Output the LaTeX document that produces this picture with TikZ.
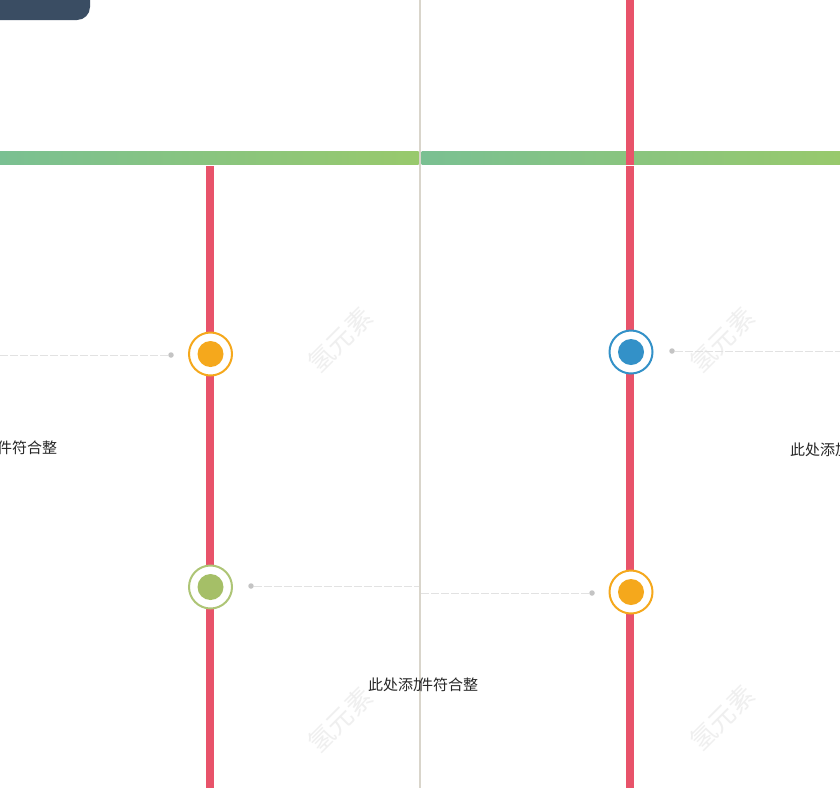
\documentclass[tikz,border=0pt]{standalone}
\usepackage{fontspec}
\newfontfamily\cjk{Noto Sans CJK SC}
\definecolor{darkbox}{HTML}{3A4D63}
\definecolor{bandA}{HTML}{7AC092}
\definecolor{bandB}{HTML}{98C96C}
\definecolor{railred}{HTML}{E8536A}
\definecolor{divider}{HTML}{D9D5CB}
\definecolor{cOrange}{HTML}{F5A81C}
\definecolor{cBlue}{HTML}{3391C8}
\definecolor{cGreen}{HTML}{A5BF67}
\definecolor{leader}{HTML}{E2E2E2}
\definecolor{leaderdot}{HTML}{C4C4C4}
\definecolor{wm}{HTML}{EFEFEF}
\begin{document}
\begin{tikzpicture}[x=1pt,y=-1pt,
  ring/.style={circle,draw=#1,line width=2pt,fill=white,minimum size=43pt,inner sep=0pt},
  core/.style={circle,fill=#1,minimum size=26pt,inner sep=0pt},
  rail/.style={railred,line width=7.5pt},
  leaderline/.style={leader,line width=1pt,dash pattern=on 8pt off 2pt},
  ldot/.style={circle,fill=leaderdot,minimum size=5.5pt,inner sep=0pt},
  label/.style={font=\cjk\fontsize{15pt}{18pt}\selectfont,text=black!85,inner sep=0pt,anchor=west},
  watermark/.style={font=\cjk\fontsize{26pt}{30pt}\selectfont,text=wm,rotate=45,inner sep=0pt}]
\useasboundingbox (0,0) rectangle (840,788);
\fill[white] (0,0) rectangle (840,788);
% watermarks
\node[watermark] (wm1) at (340,340) {氢元素};
\node[watermark] (wm2) at (722,340) {氢元素};
\node[watermark] (wm3) at (340,720) {氢元素};
\node[watermark] (wm4) at (722,718) {氢元素};
% top-left tab
\fill[darkbox,rounded corners=13pt] (-20,-20) rectangle (90,20);
% divider
\draw[divider,line width=1.8pt] (420,0) -- (420,788);
% rails
\draw[rail] (630,0) -- (630,788);
\draw[rail] (210,166) -- (210,788);
% band
\shade[left color=bandA,right color=bandB] (0,151) rectangle (418.5,164.5);
\shade[left color=bandA,right color=bandB] (421.5,151) rectangle (840,164.5);
\fill[railred] (626.2,151) rectangle (633.8,164.5);
\fill[white] (625,164.5) rectangle (635,166);
% leaders
\coordinate (l1) at (0,355);
\node[ldot] (d1) at (171,355) {};
\draw[leaderline] (l1) -- (d1);
\coordinate (l2) at (840,351);
\node[ldot] (d2) at (672,351) {};
\draw[leaderline] (d2) -- (l2);
\coordinate (l3) at (419,586);
\node[ldot] (d3) at (251,586) {};
\draw[leaderline] (d3) -- (l3);
\coordinate (l4) at (421,593);
\node[ldot] (d4) at (592,593) {};
\draw[leaderline] (l4) -- (d4);
% milestones
\node[ring=cOrange] (m1) at (210.5,354) {};
\node[core=cOrange] (m1c) at (m1) {};
\node[ring=cBlue] (m2) at (631,352) {};
\node[core=cBlue] (m2c) at (m2) {};
\node[ring=cGreen!90] (m3) at (210.5,587) {};
\node[core=cGreen] (m3c) at (m3) {};
\node[ring=cOrange] (m4) at (631,592) {};
\node[core=cOrange] (m4c) at (m4) {};
% labels (clipped by panel edges)
\node[label] (t1) at (-3,448) {件符合整};
\begin{scope}
\clip (0,600) rectangle (419.5,788);
\node[label] (t2) at (368,685) {此处添加};
\end{scope}
\begin{scope}
\clip (420.5,600) rectangle (840,788);
\node[label] (t3) at (418,685) {件符合整};
\end{scope}
\node[label] (t4) at (790,450) {此处添加};
\end{tikzpicture}
\end{document}
